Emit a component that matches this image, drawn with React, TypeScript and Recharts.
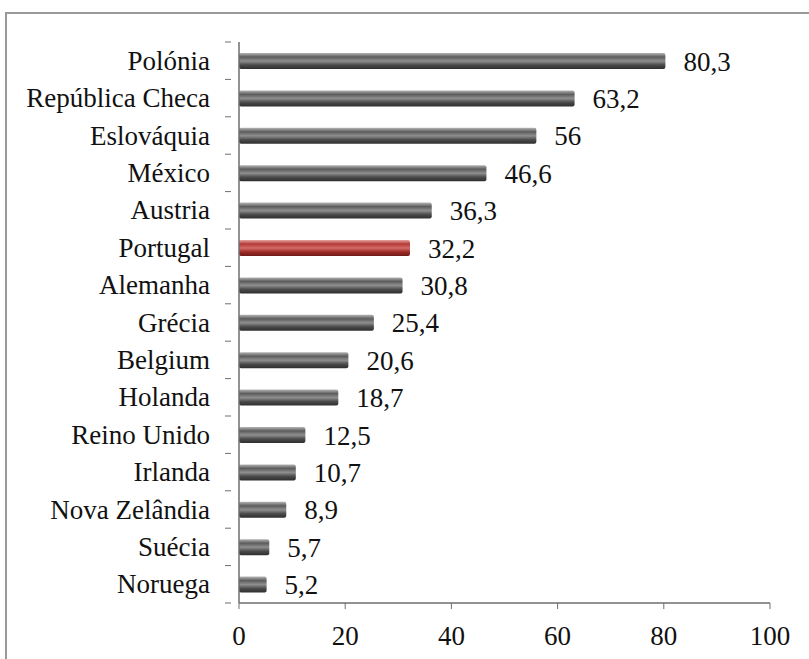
import { Bar, BarChart, Cell, LabelList, XAxis, YAxis } from 'recharts';

const countries: string[] = [
  'Polónia',
  'República Checa',
  'Eslováquia',
  'México',
  'Austria',
  'Portugal',
  'Alemanha',
  'Grécia',
  'Belgium',
  'Holanda',
  'Reino Unido',
  'Irlanda',
  'Nova Zelândia',
  'Suécia',
  'Noruega',
];

const values: number[] = [80.3, 63.2, 56, 46.6, 36.3, 32.2, 30.8, 25.4, 20.6, 18.7, 12.5, 10.7, 8.9, 5.7, 5.2];

const xTicks: number[] = [0, 20, 40, 60, 80, 100];

const highlight = 'Portugal';

const data = countries.map((name, i) => ({ name, value: values[i] }));

const font = 'Liberation Serif';
const axisColor = '#6e6e6e';
const textStyle = { fontSize: 27, fontFamily: font, fill: '#111' };

// half the height of one category band, used to put y ticks between bars like Excel
const HALF_BAND = 18.7;

const CategoryTick: React.FC<any> = ({ x, y, payload, index }) => (
  <g>
    <text x={x - 21} y={y} dy={9} textAnchor="end" style={textStyle}>
      {payload.value}
    </text>
    <line x1={x - 6} x2={x} y1={y - HALF_BAND} y2={y - HALF_BAND} stroke={axisColor} />
    {index === countries.length - 1 && (
      <line x1={x - 6} x2={x} y1={y + HALF_BAND} y2={y + HALF_BAND} stroke={axisColor} />
    )}
  </g>
);

const NumberTick: React.FC<any> = ({ x, payload }) => (
  <g>
    <line x1={x} x2={x} y1={603} y2={609} stroke={axisColor} />
    <text x={x} y={645} textAnchor="middle" style={textStyle}>
      {payload.value}
    </text>
  </g>
);

export default function App() {
  return (
    <div style={{ position: 'absolute', left: 0, top: 0, width: 809, height: 659, overflow: 'hidden', background: '#fff' }}>
      <div
        style={{
          position: 'absolute',
          left: 5,
          top: 12,
          width: 900,
          height: 700,
          border: '2px solid #9a9a9a',
        }}
      />
      <div style={{ position: 'absolute', left: 0, top: 0 }}>
        <BarChart
          width={809}
          height={659}
          data={data}
          layout="vertical"
          margin={{ top: 42, right: 39, left: 0, bottom: 0 }}
          barSize={16}
        >
          <defs>
            <linearGradient id="gray" x1="0" y1="0" x2="0" y2="1">
              <stop offset="0%" stopColor="#b5b5b5" />
              <stop offset="25%" stopColor="#5c5c5c" />
              <stop offset="50%" stopColor="#8f8f8f" />
              <stop offset="75%" stopColor="#4a4a4a" />
              <stop offset="100%" stopColor="#2e2e2e" />
            </linearGradient>
            <linearGradient id="red" x1="0" y1="0" x2="0" y2="1">
              <stop offset="0%" stopColor="#e6a3a1" />
              <stop offset="25%" stopColor="#b23a36" />
              <stop offset="50%" stopColor="#d46a66" />
              <stop offset="75%" stopColor="#9c2a27" />
              <stop offset="100%" stopColor="#6e1a18" />
            </linearGradient>
          </defs>
          <XAxis
            type="number"
            domain={[0, 100]}
            ticks={xTicks}
            height={56}
            axisLine={{ stroke: axisColor, strokeWidth: 1.5 }}
            tickLine={false}
            tick={<NumberTick />}
            interval={0}
          />
          <YAxis
            type="category"
            dataKey="name"
            width={239}
            axisLine={{ stroke: axisColor, strokeWidth: 1.5 }}
            tickLine={false}
            tick={<CategoryTick />}
            interval={0}
          />
          <Bar dataKey="value" isAnimationActive={false} radius={2}>
            {data.map((d) => (
              <Cell key={d.name} fill={d.name === highlight ? 'url(#red)' : 'url(#gray)'} />
            ))}
            <LabelList
              dataKey="value"
              position="right"
              offset={18}
              formatter={(v: any) => String(v).replace('.', ',')}
              style={textStyle}
            />
          </Bar>
        </BarChart>
      </div>
    </div>
  );
}
